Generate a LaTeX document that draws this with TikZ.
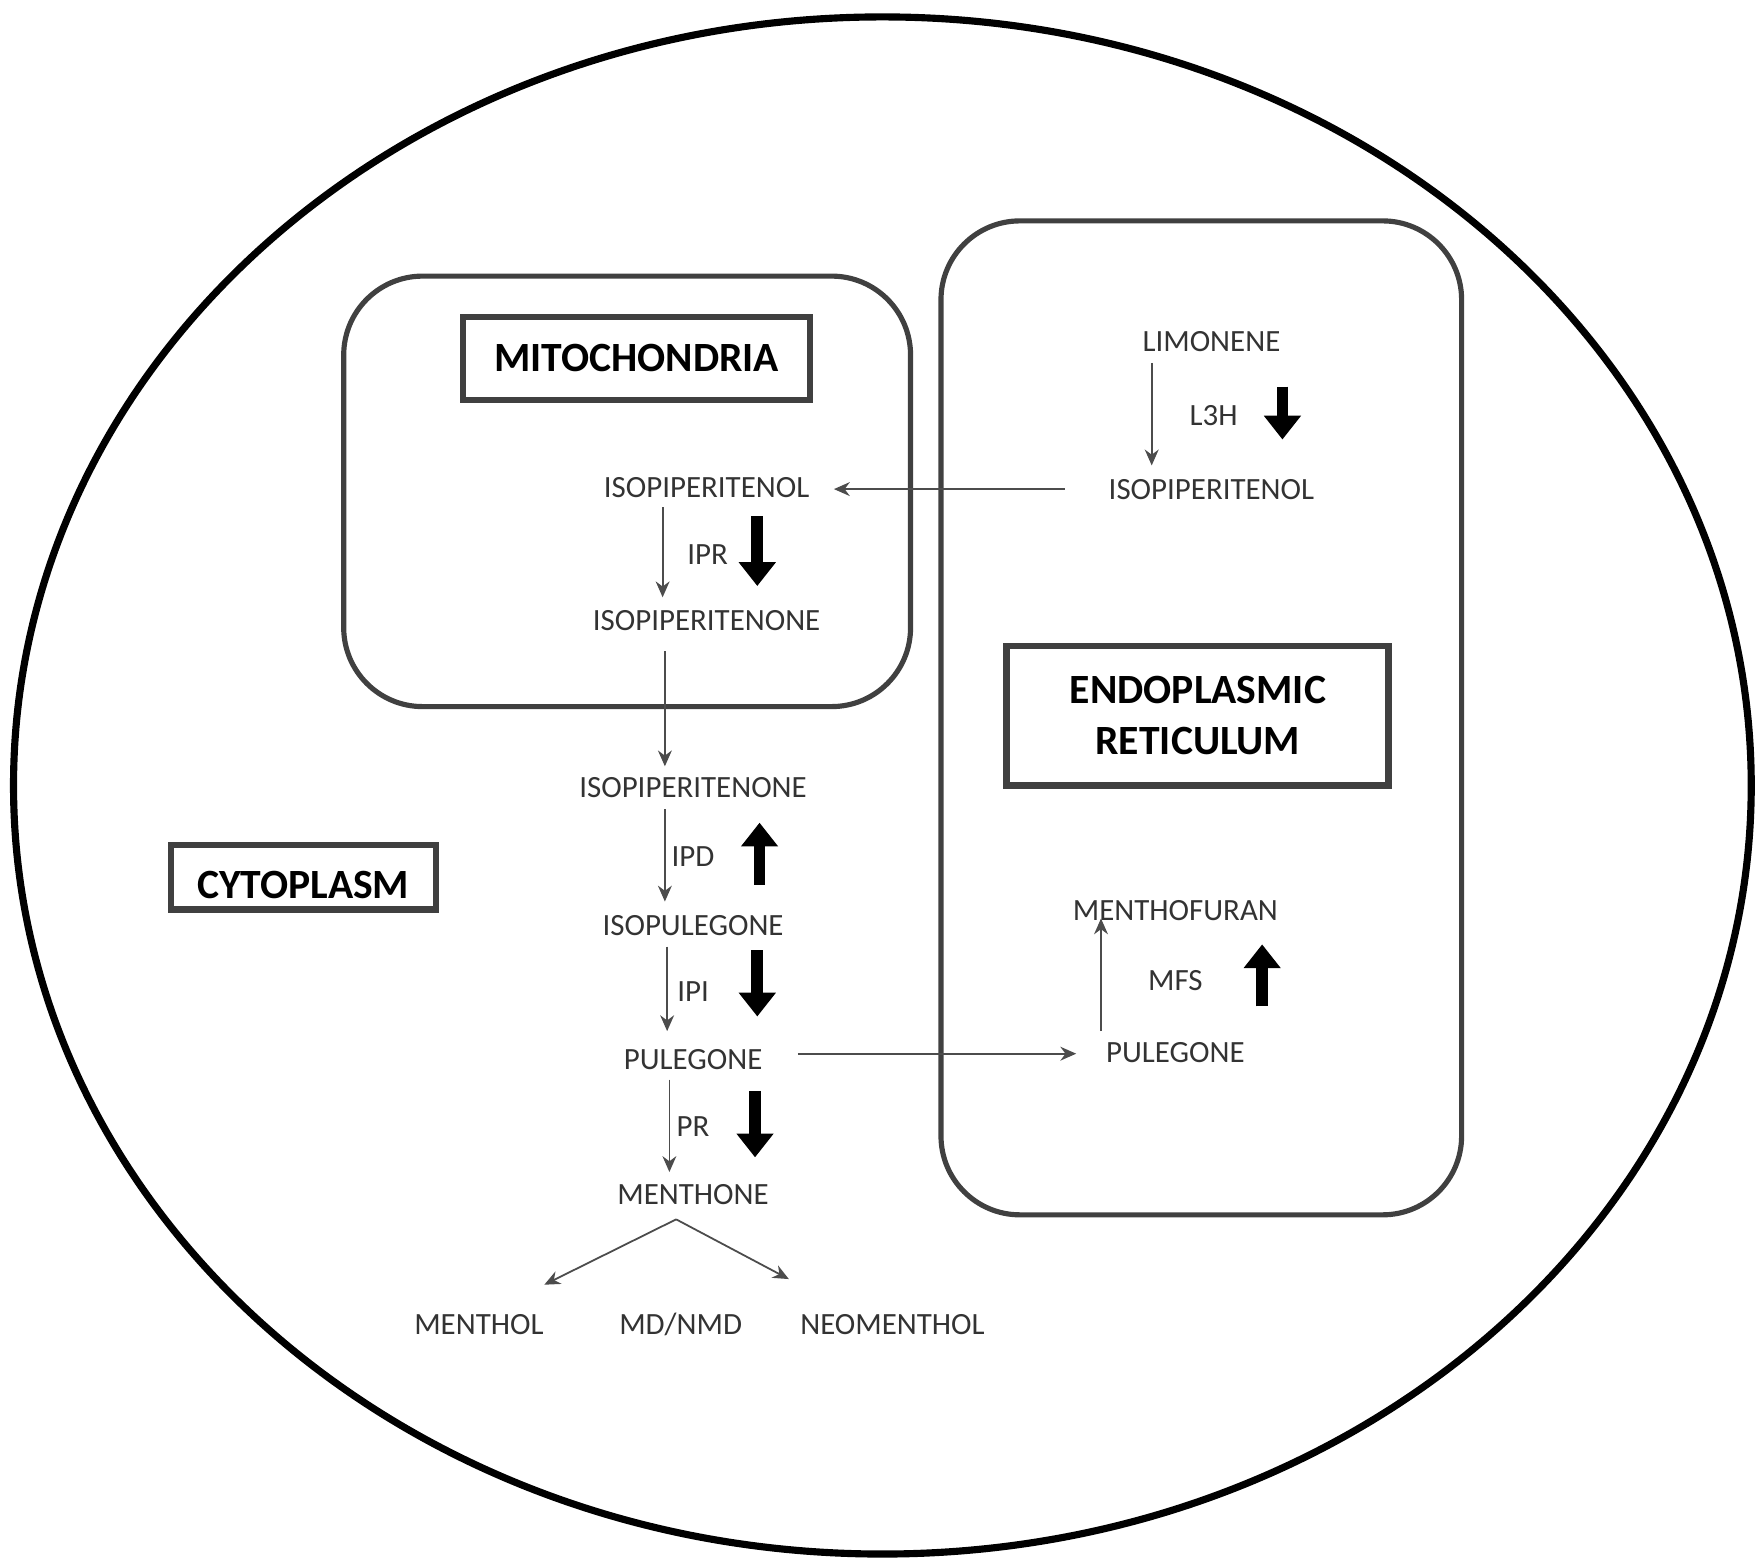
\documentclass[tikz,border=0pt]{standalone}
\usepackage{fontspec}
\setmainfont{Carlito}
\usetikzlibrary{arrows.meta}
\begin{document}
\begin{tikzpicture}[x=0.01cm,y=-0.01cm,
 lbl/.style={font=\fontsize{7.8}{9}\selectfont, text=black!80},
 ttl/.style={font=\bfseries\fontsize{10.5}{13}\selectfont, align=center},
 tbox/.style={draw=black!75, line width=1.6pt},
 comp/.style={draw=black!75, line width=1.3pt, rounded corners=0.7cm},
 thin/.style={draw=black!70, line width=0.45pt, -{Stealth[length=4pt,width=3.5pt]}},
 big/.style={line width=3pt, -{Triangle[length=6pt,width=9pt]}}]
\useasboundingbox (0,0) rectangle (1560,1390);
\draw[line width=1.8pt] (783,697) ellipse [x radius=771, y radius=682];
\draw[comp] (305,245) rectangle (808,627);
\draw[comp] (835,196) rectangle (1297,1078);
\draw[tbox] (411,281) rectangle (719,355);
\node[ttl] (mito) at (565,318) {MITOCHONDRIA};
\draw[tbox] (893,573) rectangle (1232,697);
\node[ttl] (er) at (1063,635) {ENDOPLASMIC\\RETICULUM};
\draw[tbox] (152,750) rectangle (387,807);
\node[ttl] (cyto) at (269,785) {CYTOPLASM};

\node[lbl] (lim) at (1075,303) {LIMONENE};
\node[lbl] (l3h) at (1077,369) {L3H};
\node[lbl] (ipolER) at (1075,434) {ISOPIPERITENOL};
\node[lbl] (ipolM) at (627,433) {ISOPIPERITENOL};
\node[lbl] (ipr) at (628,492) {IPR};
\node[lbl] (iponM) at (627,551) {ISOPIPERITENONE};
\node[lbl] (iponC) at (615,699) {ISOPIPERITENONE};
\node[lbl] (ipd) at (615,760) {IPD};
\node[lbl] (isopul) at (615,821) {ISOPULEGONE};
\node[lbl] (ipi) at (615,880) {IPI};
\node[lbl] (pul) at (615,940) {PULEGONE};
\node[lbl] (pr) at (615,1000) {PR};
\node[lbl] (mone) at (615,1060) {MENTHONE};
\node[lbl] (pulER) at (1043,934) {PULEGONE};
\node[lbl] (mfur) at (1043,808) {MENTHOFURAN};
\node[lbl] (mfs) at (1043,870) {MFS};
\node[lbl] (mol) at (425,1175) {MENTHOL};
\node[lbl] (md) at (604,1175) {MD/NMD};
\node[lbl] (neo) at (792,1175) {NEOMENTHOL};

\coordinate (a1) at (1022,322); \coordinate (a2) at (1022,413);
\coordinate (b1) at (945,434); \coordinate (b2) at (740,434);
\coordinate (c1) at (588,450); \coordinate (c2) at (588,530);
\coordinate (d1) at (590,578); \coordinate (d2) at (590,680);
\coordinate (e1) at (590,718); \coordinate (e2) at (590,800);
\coordinate (f1) at (592,840); \coordinate (f2) at (592,915);
\coordinate (g1) at (594,958); \coordinate (g2) at (594,1040);
\coordinate (h1) at (708,935); \coordinate (h2) at (955,935);
\coordinate (i1) at (977,915); \coordinate (i2) at (977,815);
\coordinate (j0) at (600,1082); \coordinate (j1) at (483,1140); \coordinate (j2) at (700,1135);
\foreach \s/\t in {a1/a2,b1/b2,c1/c2,d1/d2,e1/e2,f1/f2,g1/g2,h1/h2,i1/i2,j0/j1,j0/j2}
  \draw[thin] (\s) -- (\t);

\coordinate (k1) at (1138,343); \coordinate (k2) at (1138,390);
\coordinate (l1) at (672,458); \coordinate (l2) at (672,520);
\coordinate (m1) at (674,785); \coordinate (m2) at (674,730);
\coordinate (n1) at (672,843); \coordinate (n2) at (672,902);
\coordinate (o1) at (670,968); \coordinate (o2) at (670,1027);
\coordinate (p1) at (1120,893); \coordinate (p2) at (1120,838);
\foreach \s/\t in {k1/k2,l1/l2,m1/m2,n1/n2,o1/o2,p1/p2}
  \draw[big] (\s) -- (\t);
\end{tikzpicture}
\end{document}
